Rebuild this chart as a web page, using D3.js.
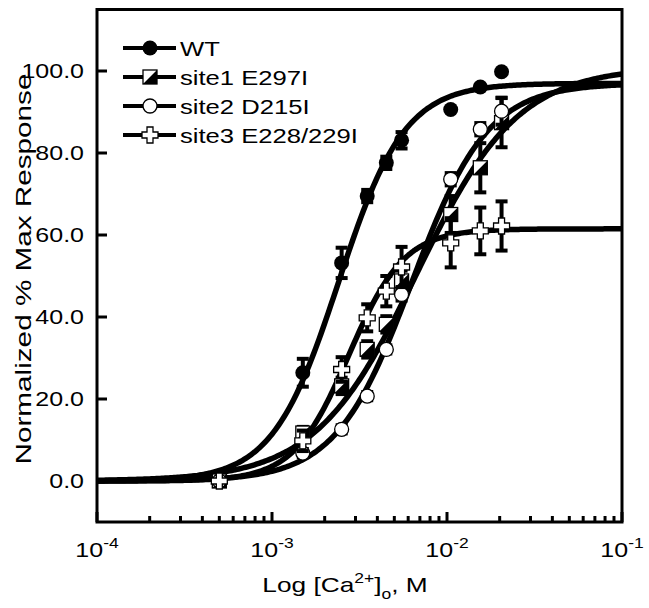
<!DOCTYPE html>
<html><head><meta charset="utf-8">
<script src="https://cdn.jsdelivr.net/npm/d3@7"></script>
<style>body{margin:0;background:#fff}svg{display:block}text{font-family:"Liberation Sans",Arial,sans-serif;fill:#000}</style>
</head><body>
<svg id="c" width="649" height="608"></svg>
<script>
// Concentrations (M)
const conc = [0.0005, 0.0015, 0.0025, 0.0035, 0.0045, 0.0055, 0.0105, 0.0155, 0.0205];
const wtVals    = [0, 26.4, 53.2, 69.5, 77.6, 83.1, 90.6, 96.1, 99.8];
const wtErr     = [0, 3.4, 3.7, 1.5, 1.5, 2.0, 0, 0, 0];
const site1Vals = [0, 11.7, 23.2, 32.1, 38.2, 48.8, 65.0, 76.4, 87.4];
const site1Err  = [0, 1.5, 2.0, 2.0, 2.0, 2.5, 4.5, 6.0, 6.0];
const site2Vals = [0, 6.8, 12.6, 20.7, 32.1, 45.5, 73.6, 85.8, 90.2];
const site2Err  = [0, 1.0, 1.0, 1.0, 1.0, 1.5, 1.5, 1.5, 3.3];
const site3Vals = [0, 9.8, 27.2, 39.8, 46.3, 52.2, 58.1, 61.0, 62.2];
const site3Err  = [0, 2.5, 3.0, 3.3, 3.7, 4.9, 6.0, 5.7, 6.0];
// Hill fit parameters: [top, EC50 (M), n]
const wtFit    = [97, 0.0024, 2.3];
const site1Fit = [101, 0.0067, 1.5];
const site2Fit = [97, 0.0063, 2.0];
const site3Fit = [61.5, 0.00275, 2.75];
const seriesNames = ["WT", "site1 E297I", "site2 D215I", "site3 E228/229I"];
const markers = ["circleFilled", "halfSquare", "circleOpen", "cross"];
const yTicks = [0, 20, 40, 60, 80, 100];
const xTickExps = [-4, -3, -2, -1];

const svg = d3.select("#c");
const x = d3.scaleLog().domain([1e-4, 1e-1]).range([97, 622]);
const y = d3.scaleLinear().domain([-10, 115]).range([522, 9.5]);
const SX = 1.25; // horizontal text stretch

function stext(g, tx, ty, str, size, anchor) {
  const t = g.append("text").attr("transform", `translate(${tx},${ty}) scale(${SX},1)`)
    .attr("font-size", size).attr("text-anchor", anchor || "start").text(str);
  return t;
}

const series = [
  {name: seriesNames[0], vals: wtVals, err: wtErr, fit: wtFit, mk: markers[0]},
  {name: seriesNames[1], vals: site1Vals, err: site1Err, fit: site1Fit, mk: markers[1]},
  {name: seriesNames[2], vals: site2Vals, err: site2Err, fit: site2Fit, mk: markers[2]},
  {name: seriesNames[3], vals: site3Vals, err: site3Err, fit: site3Fit, mk: markers[3]},
];

// fitted curves
const line = d3.line().x(d => x(d[0])).y(d => y(d[1])).curve(d3.curveLinear);
const gridC = d3.range(0, 301).map(i => Math.pow(10, -4 + 3 * i / 300));
const gCurves = svg.append("g");
series.forEach(s => {
  const [top, ec, n] = s.fit;
  const pts = gridC.map(c => [c, top / (1 + Math.pow(ec / c, n))]);
  gCurves.append("path").attr("d", line(pts)).attr("fill", "none")
    .attr("stroke", "#000").attr("stroke-width", 5.5).attr("stroke-linejoin", "round");
});

function drawMarker(g, cx, cy, type, r) {
  r = r || 7.5;
  if (type === "circleFilled") {
    g.append("circle").attr("cx", cx).attr("cy", cy).attr("r", r).attr("fill", "#000");
  } else if (type === "circleOpen") {
    g.append("circle").attr("cx", cx).attr("cy", cy).attr("r", r - 0.5).attr("fill", "#fff")
      .attr("stroke", "#000").attr("stroke-width", 1.3);
  } else if (type === "halfSquare") {
    const h = r - 0.5;
    g.append("rect").attr("x", cx - h).attr("y", cy - h).attr("width", 2 * h).attr("height", 2 * h)
      .attr("fill", "#fff").attr("stroke", "#000").attr("stroke-width", 1.3);
    g.append("path").attr("d", `M${cx - h},${cy + h}L${cx + h},${cy - h}L${cx + h},${cy + h}Z`).attr("fill", "#000");
  } else if (type === "cross") {
    const a = r + 0.5, w = 3;
    g.append("path").attr("d",
      `M${cx - w},${cy - a}H${cx + w}V${cy - w}H${cx + a}V${cy + w}H${cx + w}V${cy + a}H${cx - w}V${cy + w}H${cx - a}V${cy - w}H${cx - w}Z`)
      .attr("fill", "#fff").attr("stroke", "#000").attr("stroke-width", 1.3);
  }
}

// error bars + markers
const gPts = svg.append("g");
series.forEach(s => {
  const g = gPts.append("g");
  conc.forEach((c, i) => {
    const e = s.err[i];
    if (e > 0) {
      const cx = x(c), y1 = y(s.vals[i] + e), y2 = y(s.vals[i] - e);
      g.append("line").attr("x1", cx).attr("x2", cx).attr("y1", y1).attr("y2", y2)
        .attr("stroke", "#000").attr("stroke-width", 4);
      [y1, y2].forEach(yy => g.append("line").attr("x1", cx - 6).attr("x2", cx + 6)
        .attr("y1", yy).attr("y2", yy).attr("stroke", "#000").attr("stroke-width", 4));
    }
  });
  conc.forEach((c, i) => drawMarker(g, x(c), y(s.vals[i]), s.mk));
});

// frame
const [x0, x1] = x.range(), [yb, yt] = y.range();
svg.append("rect").attr("x", x0).attr("y", yt).attr("width", x1 - x0).attr("height", yb - yt)
  .attr("fill", "none").attr("stroke", "#000").attr("stroke-width", 3);

// x ticks
const gx = svg.append("g");
for (let e = -4; e < -1 + 0.5; e++) {
  for (let m = 1; m <= 9; m++) {
    const v = m * Math.pow(10, e);
    if (v > 0.1 * 1.0001) break;
    const xx = x(v), len = (m === 1) ? 10 : 6;
    gx.append("line").attr("x1", xx).attr("x2", xx).attr("y1", yb).attr("y2", yb - len)
      .attr("stroke", "#000").attr("stroke-width", 3);
  }
}
xTickExps.forEach(e => {
  const xx = x(Math.pow(10, e));
  const t = gx.append("text").attr("transform", `translate(${xx},557) scale(${SX},1)`)
    .attr("font-size", 20).attr("text-anchor", "middle");
  t.append("tspan").text("10");
  t.append("tspan").attr("font-size", 14).attr("dy", -9).text(String(e));
});

// y ticks
const gy = svg.append("g");
yTicks.forEach(v => {
  const yy = y(v);
  gy.append("line").attr("x1", x0).attr("x2", x0 + 10).attr("y1", yy).attr("y2", yy)
    .attr("stroke", "#000").attr("stroke-width", 3);
  stext(gy, 84, yy + 7, v.toFixed(1), 20, "end");
});

// axis titles
const xt = svg.append("text").attr("transform", `translate(345,592) scale(${SX},1)`)
  .attr("font-size", 21).attr("text-anchor", "middle");
xt.append("tspan").text("Log [Ca");
xt.append("tspan").attr("font-size", 14).attr("dy", -9).text("2+");
xt.append("tspan").attr("dy", 9).text("]");
xt.append("tspan").attr("font-size", 14).attr("dy", 7).text("o");
xt.append("tspan").attr("dy", -7).text(", M");

svg.append("text").attr("transform", `translate(31,269) rotate(-90) scale(1.32,1)`)
  .attr("font-size", 22.5).attr("text-anchor", "middle").text("Normalized % Max Response");

// legend
const gl = svg.append("g");
series.forEach((s, i) => {
  const ly = 48 + i * 29;
  gl.append("line").attr("x1", 123).attr("x2", 176).attr("y1", ly).attr("y2", ly)
    .attr("stroke", "#000").attr("stroke-width", 4);
  drawMarker(gl, 150, ly, s.mk);
  stext(gl, 180, ly + 8, s.name, 20.5, "start");
});
</script>
</body></html>
